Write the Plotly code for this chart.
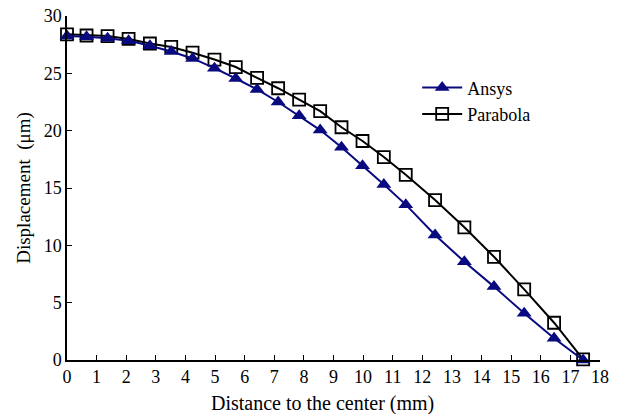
import plotly.graph_objects as go

distance = [0, 0.66, 1.37, 2.08, 2.8, 3.52, 4.24, 4.98, 5.7, 6.42, 7.13, 7.84,
            8.55, 9.27, 9.98, 10.7, 11.44, 12.43, 13.42, 14.42, 15.44, 16.45, 17.43]
ansys = [28.25, 28.2, 28.05, 27.85, 27.4, 26.9, 26.3, 25.45, 24.55, 23.6, 22.5, 21.3,
         20.05, 18.55, 16.95, 15.3, 13.55, 10.9, 8.57, 6.4, 4.07, 1.9, 0.0]
parabola = [28.4, 28.3, 28.25, 28.0, 27.6, 27.3, 26.8, 26.2, 25.55, 24.6, 23.7, 22.7,
            21.7, 20.3, 19.1, 17.7, 16.15, 13.95, 11.57, 9.0, 6.16, 3.25, 0.06]
x_ticks = list(range(0, 19))
y_ticks = [0, 5, 10, 15, 20, 25, 30]
x_title = "Distance to the center (mm)"
y_title = "Displacement  (μm)"

FONT = "'Liberation Serif', 'Times New Roman', Times, serif"

fig = go.Figure()
fig.add_trace(go.Scatter(
    x=distance, y=parabola, name="Parabola", mode="lines+markers",
    line=dict(color="black", width=2),
    marker=dict(symbol="square-open", size=12, color="black", line=dict(width=1.8)),
    cliponaxis=False, legendrank=2,
))
fig.add_trace(go.Scatter(
    x=distance, y=ansys, name="Ansys", mode="lines+markers",
    line=dict(color="#0a0a80", width=2),
    marker=dict(symbol="triangle-up", size=13, color="#0a0a80"),
    cliponaxis=False, legendrank=1,
))

fig.add_annotation(
    text=x_title, xref="paper", yref="paper", x=0.479, y=-0.125,
    xanchor="center", yanchor="middle", showarrow=False,
    font=dict(size=20, family=FONT, color="black"),
)

fig.update_layout(
    width=623, height=414,
    margin=dict(l=67, r=23, t=16, b=54),
    paper_bgcolor="white", plot_bgcolor="white",
    font=dict(family=FONT, size=18, color="black"),
    showlegend=True,
    legend=dict(x=0.657, y=0.845, xanchor="left", yanchor="top",
                bgcolor="rgba(0,0,0,0)", font=dict(size=18, family=FONT),
                tracegroupgap=0, itemwidth=40),
    xaxis=dict(
        range=[0, 18], tickvals=x_ticks, ticks="inside", ticklen=5,
        tickcolor="black", showline=True, linecolor="black", linewidth=1.5,
        showgrid=False, zeroline=False, tickfont=dict(size=18, family=FONT),
        automargin=False,
    ),
    yaxis=dict(
        range=[0, 30], tickvals=y_ticks, ticks="inside", ticklen=5,
        tickcolor="black", showline=True, linecolor="black", linewidth=1.5,
        showgrid=False, zeroline=False, tickfont=dict(size=18, family=FONT),
        automargin=False,
        title=dict(text=y_title, font=dict(size=19, family=FONT), standoff=8),
    ),
)

fig.write_html("out.html", config={"displayModeBar": False},
               post_script="document.body.style.margin='0';")
